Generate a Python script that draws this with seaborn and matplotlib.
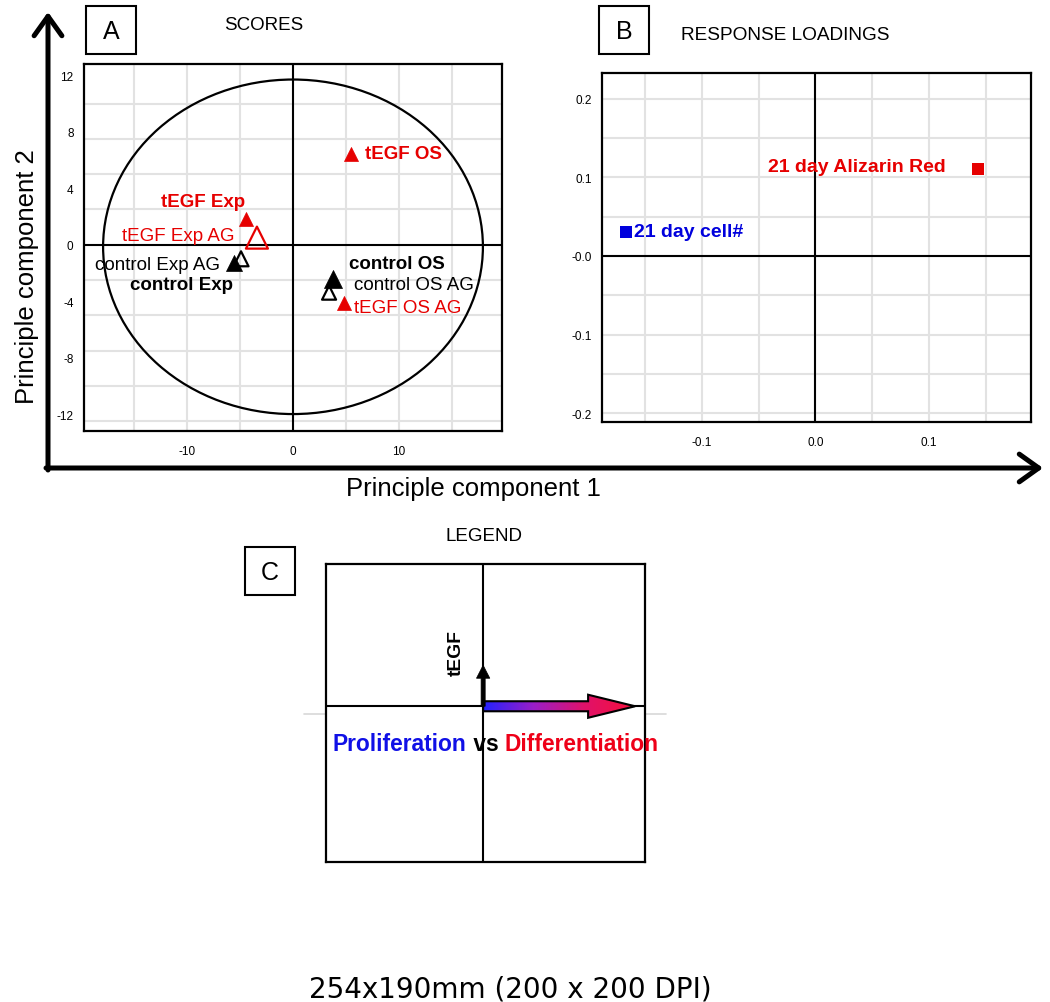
import numpy as np
import pandas as pd
import matplotlib
matplotlib.use("Agg")
import matplotlib.pyplot as plt
from matplotlib.patches import Ellipse, FancyArrow, FancyArrowPatch, Rectangle
from matplotlib.colors import LinearSegmentedColormap
from matplotlib.ticker import MultipleLocator
import seaborn as sns

# Panel A - scores
score_labels = ["tEGF OS", "tEGF Exp", "tEGF Exp AG", "control Exp AG",
                "control Exp", "control OS", "control OS AG", "tEGF OS AG"]
score_pc1 = [5.5, -4.4, -3.4, -4.9, -5.6, 3.8, 3.4, 4.8]
score_pc2 = [6.4, 1.8, 0.5, -1.0, -1.3, -2.4, -3.4, -4.1]
score_group = ["tEGF", "tEGF", "tEGF", "control", "control", "control", "control", "tEGF"]
score_filled = [True, True, False, False, True, True, False, True]
ellipse_center = [0.0, -0.15]
ellipse_radii = [17.9, 11.85]

# Panel B - response loadings
loading_labels = ["21 day Alizarin Red", "21 day cell#"]
loading_pc1 = [0.1435, -0.1668]
loading_pc2 = [0.110, 0.031]

# tick labels
a_xticks = [-10, 0, 10]
a_xticklabels = ["-10", "0", "10"]
a_yticks = [-12, -8, -4, 0, 4, 8, 12]
a_yticklabels = ["-12", "-8", "-4", "0", "4", "8", "12"]
b_xticks = [-0.1, 0.0, 0.1]
b_xticklabels = ["-0.1", "0.0", "0.1"]
b_yticks = [-0.2, -0.1, 0.0, 0.1, 0.2]
b_yticklabels = ["-0.2", "-0.1", "-0.0", "0.1", "0.2"]

# Panel C - legend arrows (tEGF up, proliferation -> differentiation right)
legend_arrow_dx = [0.0, 0.967]
legend_arrow_dy = [0.274, 0.0]

sns.set_style("white")
plt.rcParams["font.family"] = ["Liberation Sans", "DejaVu Sans"]
plt.rcParams["text.color"] = "black"
plt.rcParams["axes.labelcolor"] = "black"
plt.rcParams["xtick.color"] = "black"
plt.rcParams["ytick.color"] = "black"

RED = "#e60000"
BLUE = "#0000dd"
GRID = "#e2e2e2"
group_colors = {"tEGF": RED, "control": "black"}

# label offsets in pixels (dx, dy up) and alignment
label_offsets = [(14, 1), (-43, 18), (-22, 2), (-21, -6), (-52, -21), (16, 15), (25, 8), (10, -5)]
label_ha = ["left", "center", "right", "right", "center", "left", "left", "left"]
marker_px = [14, 14, 22, 15, 16, 18, 14, 14]

W, H = 1050, 1003
PT = 0.72
fig = plt.figure(figsize=(W / 100, H / 100), dpi=100)


def fxy(px, py):
    return px / W, 1 - py / H


ax_a = fig.add_axes([84 / W, 1 - 432 / H, 418 / W, 367 / H])
ax_b = fig.add_axes([602 / W, 1 - 423 / H, 429 / W, 349 / H])
ax_c = fig.add_axes([326 / W, 1 - 863 / H, 319 / W, 298 / H])

for ax in (ax_a, ax_b, ax_c):
    for sp in ax.spines.values():
        sp.set_linewidth(1.6)
        sp.set_color("black")

# ---------------- Panel A ----------------
ax_a.set_xlim(-19.7, 19.7)
ax_a.set_ylim(-13.2, 12.8)
ax_a.set_xticks(a_xticks)
ax_a.set_xticklabels(a_xticklabels)
ax_a.set_xticks([-15, -5, 5, 15], minor=True)
ax_a.set_yticks(a_yticks)
ax_a.set_yticklabels(a_yticklabels)
ax_a.yaxis.set_minor_locator(MultipleLocator(1))
ax_a.grid(axis="x", which="both", color=GRID, lw=1.5, zorder=0)
for yv in np.arange(-12.5, 10.1, 2.5):
    if yv != 0:
        ax_a.axhline(yv, color=GRID, lw=1.5, zorder=0)
ax_a.axhline(0, color="black", lw=1.5, zorder=1)
ax_a.axvline(0, color="black", lw=1.5, zorder=1)
ax_a.add_patch(Ellipse(tuple(ellipse_center), 2 * ellipse_radii[0], 2 * ellipse_radii[1],
                       fill=False, ec="black", lw=1.6, zorder=2))

for i, lab in enumerate(score_labels):
    c = group_colors[score_group[i]]
    s = (marker_px[i] * PT) ** 2
    if score_filled[i]:
        sns.scatterplot(x=[score_pc1[i]], y=[score_pc2[i]], ax=ax_a, marker="^", s=s,
                        color=c, edgecolor=c, linewidth=0.5, zorder=3, legend=False)
    else:
        sns.scatterplot(x=[score_pc1[i]], y=[score_pc2[i]], ax=ax_a, marker="^", s=s,
                        color=c, facecolor="none", edgecolor=c, linewidth=1.6,
                        zorder=3, legend=False)
    dx, dy = label_offsets[i]
    ax_a.annotate(lab, (score_pc1[i], score_pc2[i]), xytext=(dx * PT, dy * PT),
                  textcoords="offset points", ha=label_ha[i], va="center",
                  color=c, fontsize=13.5,
                  fontweight="normal" if "AG" in lab else "bold", zorder=4)

# ---------------- Panel B ----------------
ax_b.set_xlim(-0.188, 0.190)
ax_b.set_ylim(-0.211, 0.2325)
ax_b.set_xticks(b_xticks)
ax_b.set_xticklabels(b_xticklabels)
ax_b.set_xticks([-0.15, -0.05, 0.05, 0.15], minor=True)
ax_b.set_yticks(b_yticks)
ax_b.set_yticklabels(b_yticklabels)
ax_b.set_yticks([-0.15, -0.05, 0.05, 0.15], minor=True)
ax_b.grid(which="both", color=GRID, lw=1.5, zorder=0)
ax_b.axhline(0, color="black", lw=1.5, zorder=1)
ax_b.axvline(0, color="black", lw=1.5, zorder=1)

loading_df = pd.DataFrame({"pc1": loading_pc1, "pc2": loading_pc2, "label": loading_labels})
sns.scatterplot(data=loading_df, x="pc1", y="pc2", hue="label", palette=[RED, BLUE],
                marker="s", s=(12 * PT) ** 2, linewidth=0, ax=ax_b, legend=False, zorder=3)
b_offsets = [(-32, 3), (8, 0)]
b_ha = ["right", "left"]
for i, lab in enumerate(loading_labels):
    dx, dy = b_offsets[i]
    ax_b.annotate(lab, (loading_pc1[i], loading_pc2[i]), xytext=(dx * PT, dy * PT),
                  textcoords="offset points", ha=b_ha[i], va="center",
                  color=[RED, BLUE][i], fontsize=14, fontweight="bold", zorder=4)

for ax in (ax_a, ax_b):
    ax.set_xlabel("")
    ax.set_ylabel("")
    ax.tick_params(which="both", direction="inout", length=3, width=1.4,
                   labelsize=8.5, colors="black")
    ax.tick_params(axis="x", which="both", direction="out", length=3, pad=7)
    ax.tick_params(axis="y", which="both", pad=6)

# ---------------- Panel C ----------------
ax_c.set_xlim(-1.0, 1.03)
ax_c.set_ylim(-1.04, 0.95)
ax_c.set_xticks([])
ax_c.set_yticks([])
ax_c.axhline(0, color="black", lw=1.5, zorder=1)
ax_c.axvline(0, color="black", lw=1.5, zorder=1)
for seg in ([-1.14, -1.0], [1.03, 1.164]):
    ax_c.plot(seg, [-0.052, -0.052], color="#d8d8d8", lw=1.2, clip_on=False, zorder=0)

up = FancyArrow(0, 0, legend_arrow_dx[0], legend_arrow_dy[0], width=0.026,
                head_width=0.085, head_length=0.087, length_includes_head=True,
                fc="black", ec="black", lw=0.5, zorder=4)
ax_c.add_patch(up)

right = FancyArrow(0, 0, legend_arrow_dx[1], legend_arrow_dy[1], width=0.067,
                   head_width=0.154, head_length=0.299, length_includes_head=True,
                   fc="none", ec="black", lw=1.5, zorder=4)
ax_c.add_patch(right)
grad_cmap = LinearSegmentedColormap.from_list(
    "pd", ["#2222ff", "#9a1ec8", "#e0126a", "#f7103c"])
grad = np.linspace(0, 1, 256).reshape(1, -1)
im = ax_c.imshow(grad, cmap=grad_cmap, extent=[0, legend_arrow_dx[1], -0.09, 0.09],
                 aspect="auto", zorder=3)
im.set_clip_path(right)
ax_c.set_xlim(-1.0, 1.03)
ax_c.set_ylim(-1.04, 0.95)

ax_c.text(-0.168, 0.362, "tEGF", rotation=90, fontsize=13.9, fontweight="bold",
          ha="center", va="center", color="black")
t1 = ax_c.text(-0.957, -0.252, "Proliferation", color="#1010e6", fontsize=16.4,
               fontweight="bold", ha="left", va="center", zorder=5)
t2 = ax_c.annotate(" vs ", xy=(1, 0), xycoords=t1, ha="left", va="bottom",
                   color="black", fontsize=16.4, fontweight="bold", zorder=5)
ax_c.annotate("Differentiation", xy=(1, 0), xycoords=t2, ha="left", va="bottom",
              color="#ee0018", fontsize=16.4, fontweight="bold", zorder=5)

# ---------------- figure decorations ----------------
fig.add_artist(FancyArrowPatch(fxy(48, 471), fxy(48, 13), transform=fig.transFigure,
                               arrowstyle="->,head_length=0.7,head_width=0.5",
                               mutation_scale=20, lw=3.6, color="black",
                               shrinkA=0, shrinkB=0))
fig.add_artist(FancyArrowPatch(fxy(46, 469), fxy(1043, 469), transform=fig.transFigure,
                               arrowstyle="->,head_length=0.7,head_width=0.5",
                               mutation_scale=20, lw=3.6, color="black",
                               shrinkA=0, shrinkB=0))
fig.text(*fxy(473.5, 496), "Principle component 1", fontsize=18.5,
         ha="center", va="baseline", color="black")
fig.text(*fxy(34, 277), "Principle component 2", fontsize=18.5, rotation=90,
         rotation_mode="anchor", ha="center", va="baseline", color="black")

for letter, (bx, by) in zip(["A", "B", "C"], [(86, 7), (599, 7), (245, 548)]):
    fig.add_artist(Rectangle(fxy(bx, by + 48), 50 / W, 48 / H, transform=fig.transFigure,
                             fill=False, ec="black", lw=1.5))
    fig.text(*fxy(bx + 25, by + 25), letter, fontsize=18, ha="center", va="center",
             color="black")

fig.text(*fxy(264, 25), "SCORES", fontsize=13.5, ha="center", va="center", color="black")
fig.text(*fxy(785, 35), "RESPONSE LOADINGS", fontsize=13.7, ha="center", va="center",
         color="black")
fig.text(*fxy(484, 537), "LEGEND", fontsize=13.5, ha="center", va="center", color="black")
fig.text(*fxy(510.7, 998), "254x190mm (200 x 200 DPI)", fontsize=20,
         family="DejaVu Sans", ha="center", va="baseline", color="black")

fig.savefig("out.png", dpi=100, facecolor="white")
